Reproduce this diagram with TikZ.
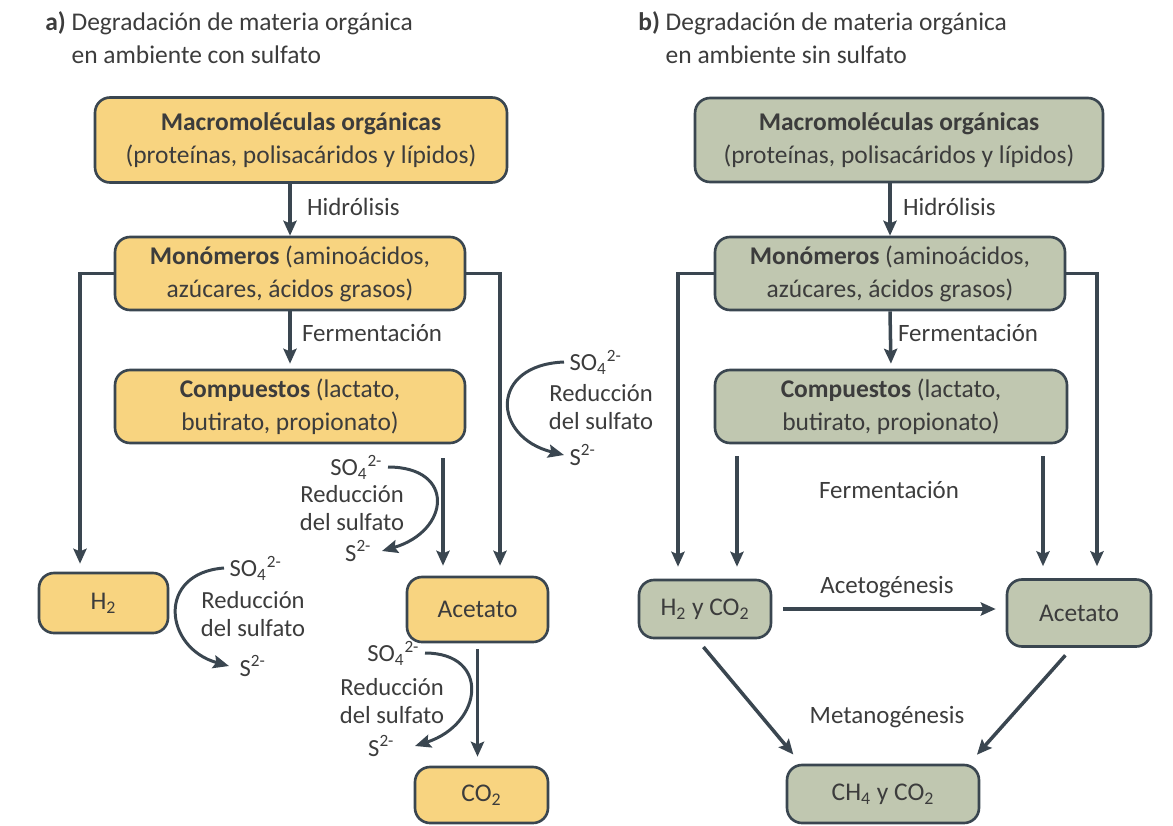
\documentclass[tikz,border=0pt]{standalone}
\usepackage{fontspec}
\setmainfont{Carlito}
\usepackage{xcolor}
\usepackage{tikz}
\usetikzlibrary{arrows.meta,positioning}
\definecolor{amarillo}{RGB}{248, 212, 128}
\definecolor{salvia}{RGB}{192, 199, 176}
\definecolor{pizarra}{RGB}{58, 70, 80}
\definecolor{texto}{RGB}{60, 60, 60}
\newcommand{\sulfato}{SO\textsubscript{4}\textsuperscript{2-}}
\newcommand{\sulfuro}{S\textsuperscript{2-}}

\begin{document}
\begin{tikzpicture}[x=0.02cm, y=-0.02cm,
    font=\fontsize{14.5}{18.7}\selectfont, text=texto,
    caja/.style={draw=pizarra, line width=1.5pt, rounded corners=0.3cm, align=center, inner sep=0pt},
    cajaA/.style={caja, fill=amarillo},
    cajaB/.style={caja, fill=salvia},
    flecha/.style={draw=pizarra, line width=2pt, -{Stealth[length=8.5pt, width=7.5pt, inset=1.5pt]}},
    curva/.style={draw=pizarra, line width=1.7pt, -{Stealth[length=9pt, width=7.5pt, inset=1.5pt]}},
    rotulo/.style={inner sep=1pt, align=center, font=\fontsize{14.2}{16}\selectfont},
    reduc/.style={rotulo, inner sep=0pt, font=\fontsize{14}{15.5}\selectfont},
    ion/.style={inner xsep=3pt, inner ysep=0pt, font=\fontsize{14}{16}\selectfont}]
            \useasboundingbox (0,0) rectangle (1173,825);

            % Titles
            \node[anchor=north west, align=left, inner sep=0pt, font=\fontsize{14.5}{18.7}\selectfont] (titA) at (45,11)
                {\textbf{a)} Degradación de materia orgánica\\\phantom{\textbf{a)} }en ambiente con sulfato};
            \node[anchor=north west, align=left, inner sep=0pt, font=\fontsize{14.5}{18.7}\selectfont] (titB) at (638,11)
                {\textbf{b)} Degradación de materia orgánica\\\phantom{\textbf{b)} }en ambiente sin sulfato};

            % a) boxes
            \node[cajaA, minimum width=8.24cm, minimum height=1.7cm] (macA) at (301,140)
                {\textbf{Macromoléculas orgánicas}\\(proteínas, polisacáridos y lípidos)};
            \node[cajaA, minimum width=7cm, minimum height=1.46cm] (monA) at (290,273.5)
                {\textbf{Monómeros} (aminoácidos,\\azúcares, ácidos grasos)};
            \node[cajaA, minimum width=7cm, minimum height=1.46cm] (compA) at (290,406.5)
                {\textbf{Compuestos} (lactato,\\butirato, propionato)};
            \node[cajaA, minimum width=2.58cm, minimum height=1.2cm] (htwoA) at (103.5,603) {H\textsubscript{2}};
            \node[cajaA, minimum width=2.82cm, minimum height=1.3cm] (acetA) at (477.5,609.5) {Acetato};
            \node[cajaA, minimum width=2.66cm, minimum height=1.12cm] (cotwoA) at (481.5,795) {CO\textsubscript{2}};

            % a) arrows
            \draw[flecha] (monA.north |- macA.south) -- (monA.north);
            \node[rotulo, anchor=west] (hidA) at (305,207) {Hidrólisis};
            \draw[flecha, shorten >=0.1cm] (monA.south) -- (compA.north);
            \node[rotulo, anchor=west] (ferA) at (300,333) {Fermentación};
            \draw[flecha, shorten >=0.16cm] (monA.west) -| ([xshift=-0.47cm]htwoA.north);
            \draw[flecha, shorten >=0.2cm] (monA.east) -| ([xshift=0.45cm]acetA.north);
            \draw[flecha, shorten <=0.28cm, shorten >=0.2cm] ([xshift=-0.69cm]acetA.north |- compA.south) -- ([xshift=-0.69cm]acetA.north);
            \draw[flecha, shorten <=0.12cm, shorten >=0.18cm] (acetA.south) -- (acetA.south |- cotwoA.north);

            % a) sulfate reduction
            \node[ion, anchor=west] (soA1) at (564,362) {\sulfato};
            \node[reduc] (redA1) at (601,407) {Reducción\\del sulfato};
            \node[ion, anchor=west] (sA1) at (564,455) {\sulfuro};
            \draw[curva] (soA1.west) .. controls +(-75,3) and +(-72,-18) .. (sA1.west);

            \node[ion, anchor=east] (soA2) at (388,467) {\sulfato};
            \node[reduc] (redA2) at (352,508) {Reducción\\del sulfato};
            \node[ion, anchor=east] (sA2) at (377,551) {\sulfuro};
            \draw[curva] (soA2.east) .. controls +(68,0) and +(68,-20) .. ([xshift=0.1cm]sA2.east);

            \node[ion, anchor=east] (soA3) at (425,653) {\sulfato};
            \node[reduc] (redA3) at (392,701) {Reducción\\del sulfato};
            \node[ion, anchor=east] (sA3) at (400,746) {\sulfuro};
            \draw[curva] (soA3.east) .. controls +(66,0) and +(68,-22) .. ([xshift=0.3cm]sA3.east);

            \node[ion, anchor=west] (soA4) at (224,568) {\sulfato};
            \node[reduc] (redA4) at (253,614) {Reducción\\del sulfato};
            \node[ion, anchor=west] (sA4) at (234,666) {\sulfuro};
            \draw[curva] (soA4.west) .. controls +(-68,5) and +(-65,-18) .. ([xshift=-0.1cm]sA4.west);

            % b) boxes
            \node[cajaB, minimum width=8.16cm, minimum height=1.68cm] (macB) at (899,140)
                {\textbf{Macromoléculas orgánicas}\\(proteínas, polisacáridos y lípidos)};
            \node[cajaB, minimum width=7cm, minimum height=1.46cm] (monB) at (890,273.5)
                {\textbf{Monómeros} (aminoácidos,\\azúcares, ácidos grasos)};
            \node[cajaB, minimum width=7.04cm, minimum height=1.46cm] (compB) at (891,406.5)
                {\textbf{Compuestos} (lactato,\\butirato, propionato)};
            \node[cajaB, minimum width=2.64cm, minimum height=1.16cm] (htwoB) at (705,609) {H\textsubscript{2} y CO\textsubscript{2}};
            \node[cajaB, minimum width=2.88cm, minimum height=1.34cm] (acetB) at (1079,613) {Acetato};
            \node[cajaB, minimum width=3.84cm, minimum height=1.16cm] (chB) at (883,794) {CH\textsubscript{4} y CO\textsubscript{2}};

            % b) arrows
            \draw[flecha] (monB.north |- macB.south) -- (monB.north);
            \node[rotulo, anchor=west] (hidB) at (901,207) {Hidrólisis};
            \draw[flecha, shorten >=0.1cm] (monB.south) -- (compB.north);
            \node[rotulo, anchor=west] (ferB) at (896,333) {Fermentación};
            \draw[flecha, shorten >=0.24cm] (monB.west) -| ([xshift=-0.54cm]htwoB.north);
            \draw[flecha, shorten >=0.24cm] (monB.east) -| ([xshift=0.36cm]acetB.north);
            \draw[flecha, shorten <=0.24cm, shorten >=0.24cm] ([xshift=0.64cm]htwoB.north |- compB.south) -- ([xshift=0.64cm]htwoB.north);
            \draw[flecha, shorten <=0.24cm, shorten >=0.24cm] ([xshift=-0.72cm]acetB.north |- compB.south) -- ([xshift=-0.72cm]acetB.north);
            \node[rotulo] (ferB2) at (889,490) {Fermentación};
            \draw[flecha, shorten <=0.22cm, shorten >=0.2cm] (htwoB.east) -- (htwoB.east -| acetB.west);
            \node[rotulo] (acetog) at (887,587) {Acetogénesis};
            \draw[flecha, shorten <=0.2cm, shorten >=0.24cm] ([xshift=-0.16cm]htwoB.south) -- ([xshift=-1.64cm]chB.north);
            \draw[flecha, shorten <=0.2cm, shorten >=0.24cm] ([xshift=-0.14cm]acetB.south) -- ([xshift=1.72cm]chB.north);
            \node[rotulo] (metan) at (887,717) {Metanogénesis};
\end{tikzpicture}
\end{document}
